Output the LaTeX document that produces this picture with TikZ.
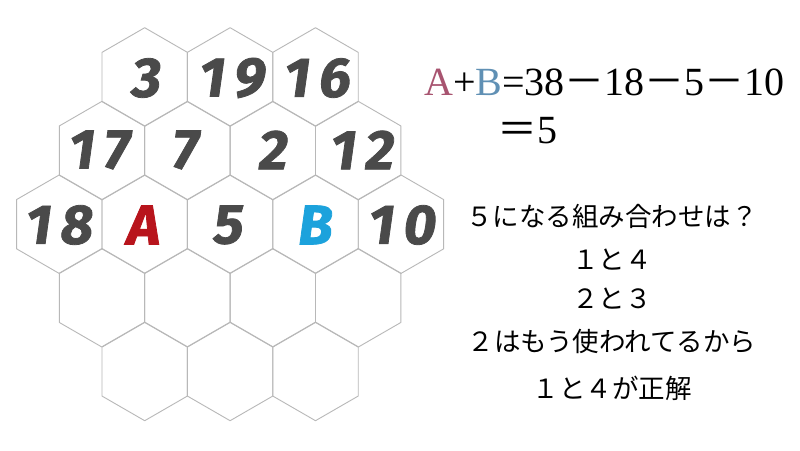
\documentclass[tikz,border=0pt]{standalone}
\usepackage{fontspec}
\setmainfont{Liberation Serif}
\newfontfamily\cjk{Noto Sans CJK JP}
\newfontfamily\numfont{Fira Sans}[FakeBold=1.4,FakeSlant=0.14,LetterSpace=16]
\definecolor{hexgray}{HTML}{B8B8B8}
\definecolor{numgray}{HTML}{4A4A4A}
\definecolor{ared}{HTML}{B8141C}
\definecolor{bblue}{HTML}{1CA2DC}
\definecolor{apink}{HTML}{A85470}
\definecolor{bsteel}{HTML}{6090B4}
\tikzset{
  hexline/.style={draw=hexgray, line width=0.9pt, line join=round},
  num/.style={inner sep=0pt, xshift=-1.5pt, text=numgray, font=\numfont\fontsize{56}{60}\selectfont\bfseries},
  eqtext/.style={inner sep=0pt, anchor=base west, font=\fontsize{40}{44}\selectfont},
  jtext/.style={inner sep=0pt, anchor=base, font=\cjk\fontsize{26.5}{30}\selectfont}
}
\begin{document}
\begin{tikzpicture}[x=1pt,y=-1pt]
\useasboundingbox (0,0) rectangle (800,450);
\fill[white] (0,0) rectangle (800,450);
\def\R{49.3}
\foreach \cx/\cy in {144.7/77,230.1/77,315.5/77,
  102/150.6,187.4/150.6,272.8/150.6,358.2/150.6,
  59.3/224.2,144.7/224.2,230.1/224.2,315.5/224.2,400.9/224.2,
  102/297.8,187.4/297.8,272.8/297.8,358.2/297.8,
  144.7/371.4,230.1/371.4,315.5/371.4}
  \draw[hexline] (\cx,\cy) +(90:\R) -- +(30:\R) -- +(-30:\R) -- +(-90:\R) -- +(-150:\R) -- +(150:\R) -- cycle;
% numbers
\node[num] (n3) at (146,78) {3};
\node[num] (n19) at (232,78) {19};
\node[num] (n16) at (317,78) {16};
\node[num] (n17) at (99,150) {17};
\node[num] (n7) at (185,150) {7};
\node[num] (n2) at (273,150) {2};
\node[num] (n12) at (362,150) {12};
\node[num] (n18) at (59,225) {18};
\node[num, text=ared] (nA) at (143,225) {A};
\node[num] (n5) at (228,225) {5};
\node[num, text=bblue] (nB) at (315,225) {B};
\node[num] (n10) at (402,225) {10};
% equation
\node[eqtext] (eq1) at (424,95) {{\color{apink}A}+{\color{bsteel}B}=38{\cjk －}18{\cjk －}5{\cjk －}10};
\node[eqtext] (eq2) at (497,143) {{\cjk ＝}5};
% explanation
\node[jtext] (l1) at (612,226) {５になる組み合わせは？};
\node[jtext] (l2) at (612,269) {１と４};
\node[jtext] (l3) at (612,308) {２と３};
\node[jtext] (l4) at (612,351) {２はもう使われてるから};
\node[jtext] (l5) at (612,398) {１と４が正解};
\end{tikzpicture}
\end{document}
